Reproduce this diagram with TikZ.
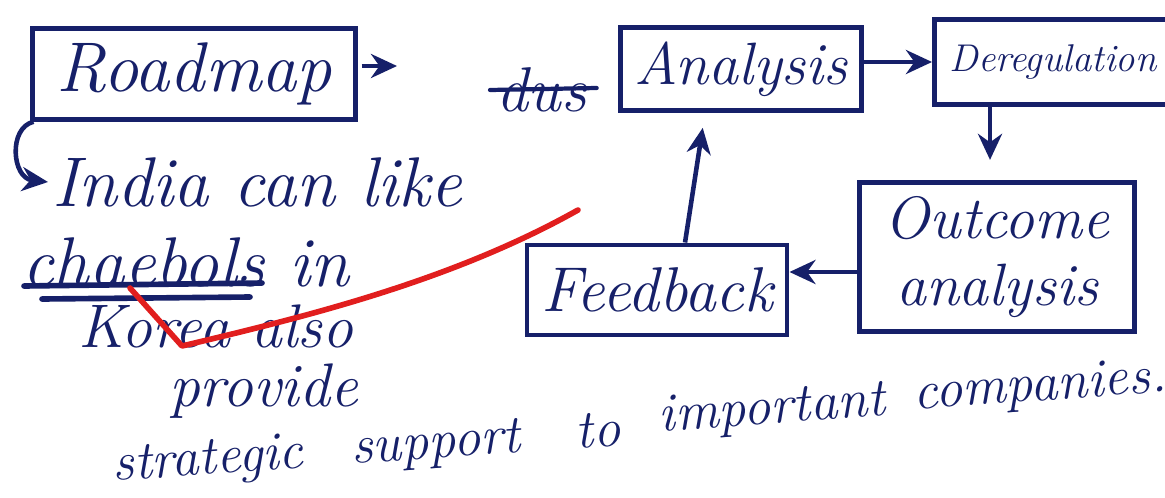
\documentclass[tikz,border=0pt]{standalone}
\usepackage{xcolor}
\usepackage{tikz}
\usetikzlibrary{arrows.meta, positioning, calc}
\definecolor{inknavy}{RGB}{22, 32, 105}
\definecolor{inkred}{RGB}{225, 30, 30}
\tikzset{
    box/.style ={draw=inknavy, line width=1.4pt, fill=white,
                 align=center, text=inknavy, inner sep=4pt,
                 font=\fontsize{20}{22}\selectfont\itshape},
    hand/.style={text=inknavy, inner sep=1pt, anchor=west,
                 font=\fontsize{20}{22}\selectfont\itshape},
    slantword/.style={text=inknavy, inner sep=1pt, rotate=4,
                 font=\fontsize{15.5}{17}\selectfont\itshape},
    ar/.style  ={-{Stealth[length=2.6mm, width=2.4mm]}, line width=1.3pt, draw=inknavy},
    uline/.style={draw=inknavy, line width=1.6pt, line cap=round}
}

\begin{document}
\begin{tikzpicture}[x=0.01cm, y=-0.01cm]
  \useasboundingbox (0,0) rectangle (1165,497);
  \clip (0,0) rectangle (1165,497);

  % flow boxes
  \node[box, minimum width=3.22cm, minimum height=0.88cm] (rm) at (194,74) {Roadmap};
  \node[box, minimum width=2.33cm, minimum height=0.82cm,
        font=\fontsize{17}{19}\selectfont\itshape] (an) at (741,69) {Analysis};
  \node[box, minimum width=2.6cm, minimum height=0.85cm, anchor=west, inner sep=2pt,
        text width=2.3cm, align=left, font=\fontsize{11}{13}\selectfont\itshape] (dr) at (932,62) {Deregulation};
  \node[box, minimum width=2.75cm, minimum height=1.15cm,
        font=\fontsize{17}{19}\selectfont\itshape] (oa) at (997,257) {Outcome\\analysis};
  \node[box, minimum width=2.55cm, minimum height=0.9cm,
        font=\fontsize{18}{20}\selectfont\itshape] (fb) at (657,290) {Feedback};

  % crossed out word
  \node[hand, font=\fontsize{18}{20}\selectfont\itshape] (dus) at (492,90) {dus};
  \draw[uline, line width=1.2pt] ([xshift=-0.02cm]dus.west) -- ([xshift=0.06cm,yshift=0.02cm]dus.east);

  % arrows
  \coordinate (rmend) at (397,66);
  \draw[ar] (rm.east |- rmend) ++(4,0) -- (rmend);
  \draw[ar] (an.east |- dr.west) -- (dr.west);
  \draw[ar, shorten >=0.2cm] ([xshift=-0.07cm]dr.south -| oa.north) -- ([xshift=-0.07cm]oa.north);
  \draw[ar] ([yshift=0.18cm]fb.east -| oa.west) -- ([yshift=0.18cm]fb.east);
  \draw[ar, shorten >=0.15cm] ([xshift=0.28cm]fb.north) -- ([xshift=-0.36cm]an.south);

  % notes
  \node[hand] (india) at (48,182) {India can like};
  \draw[ar] ([xshift=0.03cm]rm.south west) .. controls (8,128) and (12,178) .. (india.west);
  \node[hand] (chae) at (18,262) {chaebols in};
  \draw[uline] (24,286) -- (262,283);
  \draw[uline] (42,299) -- (250,297);
  \node[hand, font=\fontsize{17.5}{19}\selectfont\itshape] (korea) at (74,326) {Korea also};
  \node[hand, font=\fontsize{17.5}{19}\selectfont\itshape] (prov) at (165,391) {provide};
  \node[slantword] (w1) at (208,462) {strategic};
  \node[slantword] (w2) at (436,446) {support};
  \node[slantword] (w3) at (598,430) {to};
  \node[slantword] (w4) at (772,411) {important};
  \node[slantword] (w5) at (1040,388) {companies.};

  % red mark
  \draw[inkred, line width=1.6pt, line cap=round, line join=round]
    (578,210) .. controls (450,282) and (300,318) .. (182,346) -- (130,288);
\end{tikzpicture}
\end{document}
